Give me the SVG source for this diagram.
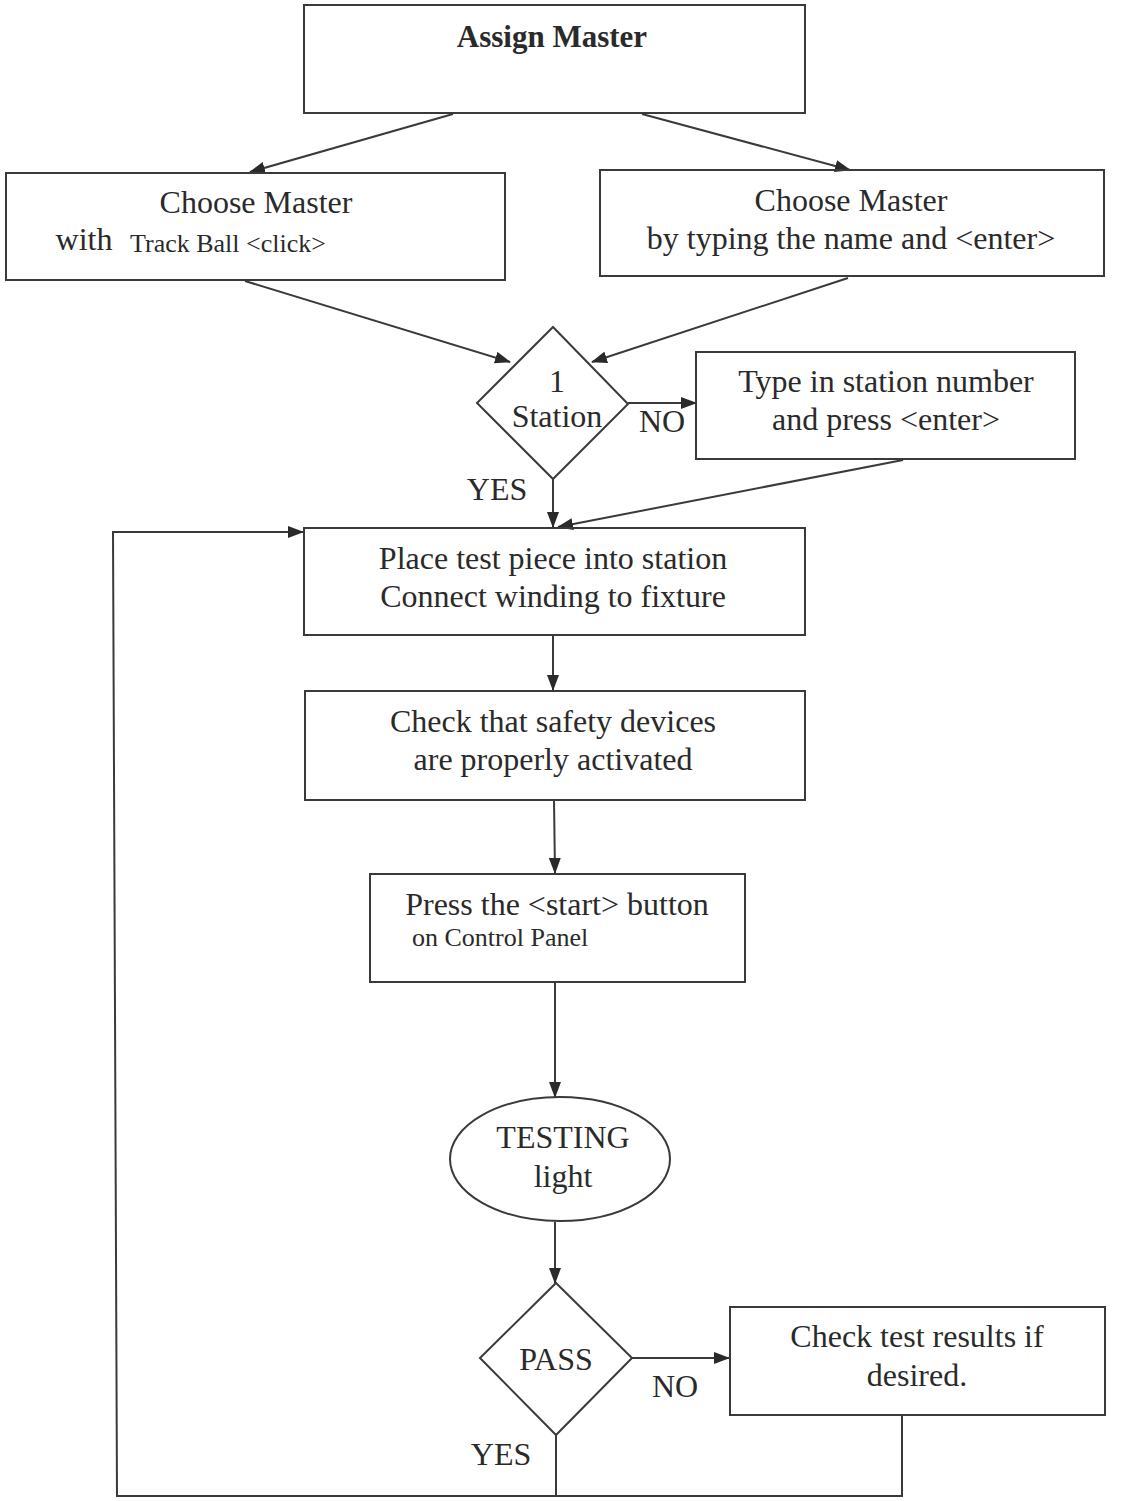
<svg xmlns="http://www.w3.org/2000/svg" width="1142" height="1501" viewBox="0 0 1142 1501">
<style>
.box{fill:none;stroke:#3a3a3a;stroke-width:2}
.ln{fill:none;stroke:#3a3a3a;stroke-width:2}
.t{font-family:"Liberation Serif","Times New Roman",serif;font-size:32px;fill:#2a2a2a;text-anchor:middle}
.s{font-family:"Liberation Serif","Times New Roman",serif;font-size:26px;fill:#2a2a2a}
.b{font-weight:bold;font-size:31px}
</style>
<defs>
<marker id="ah" viewBox="0 0 16 12" refX="15" refY="6" markerWidth="16" markerHeight="12" markerUnits="userSpaceOnUse" orient="auto">
<path d="M0,0 L16,6 L0,12 z" fill="#2a2a2a"/>
</marker>
</defs>
<rect width="1142" height="1501" fill="#ffffff"/>
<g id="connectors">
<line class="ln" x1="453" y1="114" x2="250" y2="172" marker-end="url(#ah)"/>
<line class="ln" x1="642" y1="114" x2="850" y2="170" marker-end="url(#ah)"/>
<line class="ln" x1="245" y1="281" x2="510" y2="362" marker-end="url(#ah)"/>
<line class="ln" x1="848" y1="278" x2="592" y2="362" marker-end="url(#ah)"/>
<line class="ln" x1="628" y1="403" x2="696" y2="403" marker-end="url(#ah)"/>
<line class="ln" x1="553" y1="479" x2="553" y2="527" marker-end="url(#ah)"/>
<line class="ln" x1="903" y1="460" x2="558" y2="527" marker-end="url(#ah)"/>
<line class="ln" x1="553" y1="636" x2="553" y2="690" marker-end="url(#ah)"/>
<line class="ln" x1="554" y1="800" x2="555" y2="873" marker-end="url(#ah)"/>
<line class="ln" x1="555" y1="983" x2="555" y2="1097" marker-end="url(#ah)"/>
<line class="ln" x1="555" y1="1222" x2="555" y2="1283" marker-end="url(#ah)"/>
<line class="ln" x1="632" y1="1358" x2="729" y2="1358" marker-end="url(#ah)"/>
<polyline class="ln" points="556,1435 556,1496"/>
<polyline class="ln" points="902,1415 902,1496 117,1496 113,532 303,532" marker-end="url(#ah)"/>
<text class="t" x="662" y="432">NO</text>
<text class="t" x="497" y="500">YES</text>
<text class="t" x="675" y="1397">NO</text>
<text class="t" x="501" y="1465">YES</text>
</g>
<g id="assign">
<rect class="box" x="304" y="5" width="501" height="108"/>
<text class="t b" x="552" y="47">Assign Master</text>
</g>
<g id="choose-trackball">
<rect class="box" x="6" y="173" width="499" height="107"/>
<text class="t" x="256" y="213">Choose Master</text>
<text class="t" x="84" y="250">with</text>
<text class="s" x="130" y="252">Track Ball &lt;click&gt;</text>
</g>
<g id="choose-typing">
<rect class="box" x="600" y="170" width="504" height="106"/>
<text class="t" x="851" y="211">Choose Master</text>
<text class="t" x="851" y="249">by typing the name and &lt;enter&gt;</text>
</g>
<g id="station-decision">
<polygon class="box" points="553,327 628,404 553,479 477,403"/>
<text class="t" x="557" y="392">1</text>
<text class="t" x="557" y="427">Station</text>
</g>
<g id="type-station">
<rect class="box" x="696" y="352" width="379" height="107"/>
<text class="t" x="886" y="392">Type in station number</text>
<text class="t" x="886" y="430">and press &lt;enter&gt;</text>
</g>
<g id="place">
<rect class="box" x="304" y="528" width="501" height="107"/>
<text class="t" x="553" y="569">Place test piece into station</text>
<text class="t" x="553" y="607">Connect winding to fixture</text>
</g>
<g id="safety">
<rect class="box" x="305" y="691" width="500" height="109"/>
<text class="t" x="553" y="732">Check that safety devices</text>
<text class="t" x="553" y="770">are properly activated</text>
</g>
<g id="press-start">
<rect class="box" x="370" y="874" width="375" height="108"/>
<text class="t" x="557" y="915">Press the &lt;start&gt; button</text>
<text class="s" x="412" y="946">on Control Panel</text>
</g>
<g id="testing">
<ellipse class="box" cx="560" cy="1159" rx="110" ry="62"/>
<text class="t" x="563" y="1148">TESTING</text>
<text class="t" x="563" y="1187">light</text>
</g>
<g id="pass-decision">
<polygon class="box" points="556,1283 632,1358 556,1435 480,1358"/>
<text class="t" x="556" y="1370">PASS</text>
</g>
<g id="check-results">
<rect class="box" x="730" y="1307" width="375" height="108"/>
<text class="t" x="917" y="1347">Check test results if</text>
<text class="t" x="917" y="1386">desired.</text>
</g>
</svg>
